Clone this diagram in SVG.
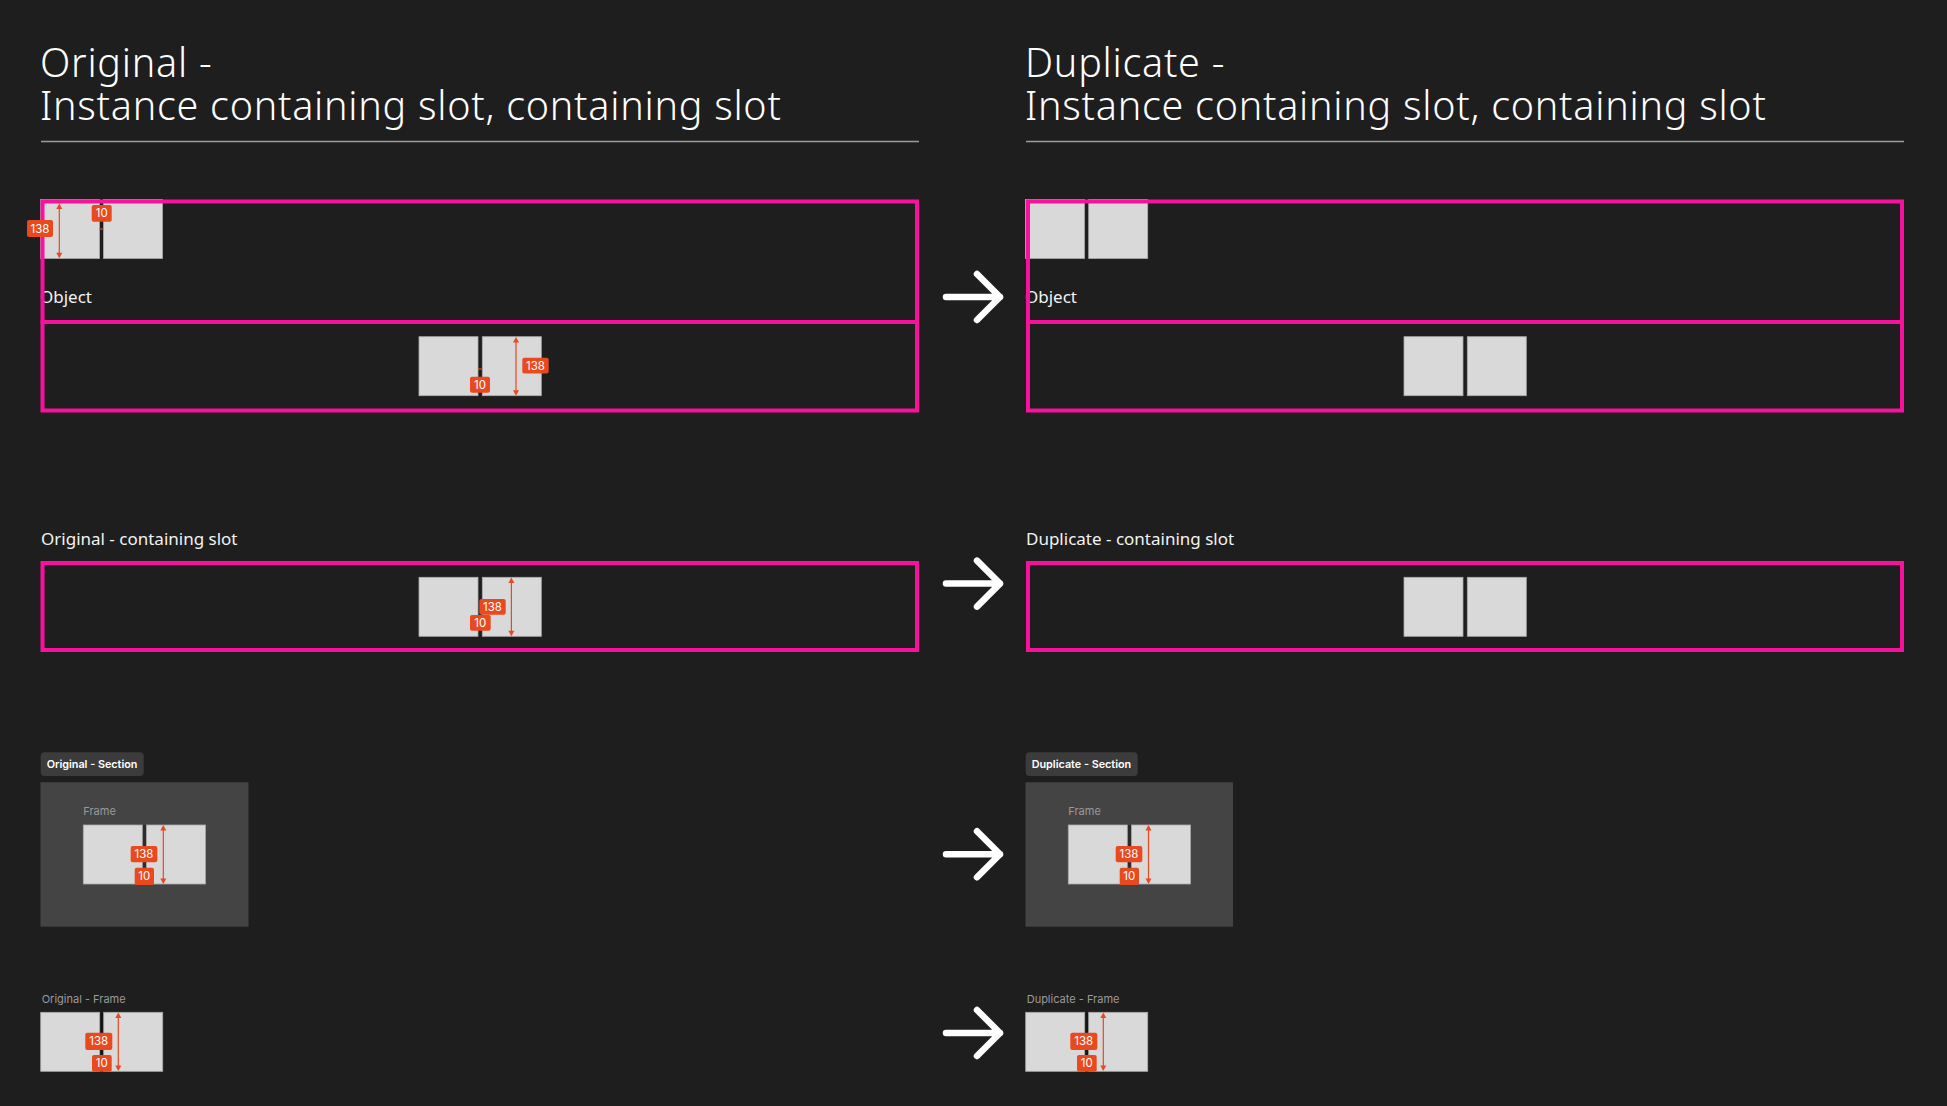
<svg xmlns="http://www.w3.org/2000/svg" width="1947" height="1106" viewBox="0 0 1947 1106">
<style>
.title{font-family:"Noto Sans","Liberation Sans",sans-serif;font-size:39.5px;font-weight:300;fill:#ffffff;letter-spacing:0.75px}
.lbl{font-family:"Noto Sans","Liberation Sans",sans-serif;font-size:17px;fill:#f2f2f2}
.rule{stroke:#9c9c9c;stroke-width:1.5}
.slot{fill:none;stroke:#f7119d;stroke-width:4}
.sq{fill:#d9d9d9;stroke:#ababab;stroke-width:0.8}
.meas{stroke:#e8491f;stroke-width:1.2;fill:none}
.mhead{fill:#e8491f}
.mbox{fill:#e8491f}
.mtxt{font-family:Inter,"Liberation Sans",sans-serif;font-size:11.5px;fill:#ffffff;text-anchor:middle}
.tag{fill:#3c3c3c}
.tagtxt{font-family:Inter,"Liberation Sans",sans-serif;font-size:10.8px;font-weight:600;fill:#ffffff}
.sect{fill:#444444}
.gray{font-family:Inter,"Liberation Sans",sans-serif;font-size:11px;fill:#9a9a9a}
.arrow{stroke:#ffffff;stroke-width:6.5;fill:none;stroke-linecap:round;stroke-linejoin:round}
</style>
<defs>
<g id="arr"><path class="arrow" d="M946 0 H1000 M977 -23 L1000 0 L977 23"/></g>
</defs>
<rect width="1947" height="1106" fill="#1e1e1e"/>

<g id="title-original">
<text class="title"><tspan x="40" y="77">Original -</tspan><tspan x="40" y="120">Instance containing slot, containing slot</tspan></text>
<line class="rule" x1="41" y1="141.5" x2="919" y2="141.5"/>
</g>
<g id="title-duplicate">
<text class="title"><tspan x="1025" y="77">Duplicate -</tspan><tspan x="1025" y="120">Instance containing slot, containing slot</tspan></text>
<line class="rule" x1="1026" y1="141.5" x2="1904" y2="141.5"/>
</g>

<!-- Original instance -->
<g id="orig-instance">
<rect class="sq" x="40.5" y="199.5" width="59" height="59"/>
<rect class="sq" x="103.5" y="199.5" width="59" height="59"/>
<text class="lbl" x="40" y="303">Object</text>
<rect class="sq" x="419" y="336.7" width="59" height="59"/>
<rect class="sq" x="482.3" y="336.7" width="59" height="59"/>
<rect class="slot" x="42.5" y="201.5" width="874.5" height="120.5"/>
<rect class="slot" x="42.5" y="322" width="874.5" height="88.5"/>
<line class="meas" x1="59.3" y1="205" x2="59.3" y2="256.5"/>
<polygon class="mhead" points="59.3,203.5 56.3,209 62.3,209"/>
<polygon class="mhead" points="59.3,258.3 56.3,252.8 62.3,252.8"/>
<rect class="mbox" x="27" y="220" width="26" height="17" rx="2"/>
<text class="mtxt" x="40" y="232.5">138</text>
<line class="meas" x1="99.3" y1="229" x2="103.5" y2="229"/>
<rect class="mbox" x="91.7" y="205" width="20" height="16.7" rx="2"/>
<text class="mtxt" x="101.7" y="217.3">10</text>
<line class="meas" x1="516" y1="338.5" x2="516" y2="394"/>
<polygon class="mhead" points="516,337 513,342.5 519,342.5"/>
<polygon class="mhead" points="516,395.7 513,390.2 519,390.2"/>
<rect class="mbox" x="522.3" y="357.7" width="26.4" height="15.8" rx="2"/>
<text class="mtxt" x="535.5" y="369.6">138</text>
<line class="meas" x1="478" y1="369" x2="482.3" y2="369"/>
<rect class="mbox" x="470" y="376.7" width="20" height="16" rx="2"/>
<text class="mtxt" x="480" y="388.7">10</text>
</g>

<!-- Duplicate instance -->
<g id="dup-instance">
<rect class="sq" x="1025.5" y="199.5" width="59" height="59"/>
<rect class="sq" x="1088.7" y="199.5" width="59" height="59"/>
<text class="lbl" x="1025" y="303">Object</text>
<rect class="sq" x="1404" y="336.7" width="59" height="59"/>
<rect class="sq" x="1467.3" y="336.7" width="59" height="59"/>
<rect class="slot" x="1028" y="201.5" width="874" height="120.5"/>
<rect class="slot" x="1028" y="322" width="874" height="88.5"/>
</g>

<!-- Original containing slot -->
<g id="orig-slot">
<text class="lbl" x="41" y="545">Original - containing slot</text>
<rect class="slot" x="42.5" y="563" width="874.5" height="87"/>
<rect class="sq" x="419" y="577.3" width="59" height="59"/>
<rect class="sq" x="482.3" y="577.3" width="59" height="59"/>
<line class="meas" x1="511.4" y1="579" x2="511.4" y2="634.5"/>
<polygon class="mhead" points="511.4,577.5 508.4,583 514.4,583"/>
<polygon class="mhead" points="511.4,636.3 508.4,630.8 514.4,630.8"/>
<rect class="mbox" x="479.3" y="599" width="26.4" height="15.7" rx="2"/>
<text class="mtxt" x="492.5" y="611">138</text>
<rect class="mbox" x="470" y="615" width="20.7" height="15.7" rx="2"/>
<text class="mtxt" x="480.3" y="627">10</text>
</g>

<!-- Duplicate containing slot -->
<g id="dup-slot">
<text class="lbl" x="1026" y="545">Duplicate - containing slot</text>
<rect class="slot" x="1028" y="563" width="874" height="87"/>
<rect class="sq" x="1404" y="577.3" width="59" height="59"/>
<rect class="sq" x="1467.3" y="577.3" width="59" height="59"/>
</g>

<!-- Original section -->
<g id="orig-section">
<rect class="tag" x="40.7" y="752.3" width="103" height="23.7" rx="4"/>
<text class="tagtxt" x="46.7" y="768">Original - Section</text>
<rect class="sect" x="40.5" y="782.3" width="208" height="144.4"/>
<text class="gray" x="83.3" y="815">Frame</text>
<rect x="83.3" y="825" width="122.4" height="59" fill="#2c2c2c"/>
<rect class="sq" x="83.3" y="825" width="59" height="59"/>
<rect class="sq" x="146.5" y="825" width="59" height="59"/>
<line class="meas" x1="163.3" y1="826.5" x2="163.3" y2="882.5"/>
<polygon class="mhead" points="163.3,825 160.3,830.5 166.3,830.5"/>
<polygon class="mhead" points="163.3,884 160.3,878.5 166.3,878.5"/>
<rect class="mbox" x="130.7" y="846" width="26.6" height="16.3" rx="2"/>
<text class="mtxt" x="144" y="858.3">138</text>
<rect class="mbox" x="134.7" y="867.7" width="19.3" height="17.3" rx="2"/>
<text class="mtxt" x="144.3" y="880.3">10</text>
</g>

<!-- Duplicate section -->
<g id="dup-section">
<rect class="tag" x="1025.7" y="752.3" width="112" height="23.7" rx="4"/>
<text class="tagtxt" x="1031.7" y="768">Duplicate - Section</text>
<rect class="sect" x="1025.5" y="782.3" width="207.5" height="144.4"/>
<text class="gray" x="1068.3" y="815">Frame</text>
<rect x="1068.3" y="825" width="122.4" height="59" fill="#2c2c2c"/>
<rect class="sq" x="1068.3" y="825" width="59" height="59"/>
<rect class="sq" x="1131.5" y="825" width="59" height="59"/>
<line class="meas" x1="1148.5" y1="826.5" x2="1148.5" y2="882.5"/>
<polygon class="mhead" points="1148.5,825 1145.5,830.5 1151.5,830.5"/>
<polygon class="mhead" points="1148.5,884 1145.5,878.5 1151.5,878.5"/>
<rect class="mbox" x="1115.7" y="846" width="26.6" height="16.3" rx="2"/>
<text class="mtxt" x="1129" y="858.3">138</text>
<rect class="mbox" x="1119.7" y="867.7" width="19.3" height="17.3" rx="2"/>
<text class="mtxt" x="1129.3" y="880.3">10</text>
</g>

<!-- Original frame -->
<g id="orig-frame">
<text class="gray" x="41.7" y="1002.7" fill="#8c8c8c">Original - Frame</text>
<rect x="40.7" y="1012.3" width="122" height="59" fill="#151515"/>
<rect class="sq" x="40.7" y="1012.3" width="59" height="59"/>
<rect class="sq" x="103.7" y="1012.3" width="59" height="59"/>
<line class="meas" x1="118.3" y1="1014" x2="118.3" y2="1069.5"/>
<polygon class="mhead" points="118.3,1012.5 115.3,1018 121.3,1018"/>
<polygon class="mhead" points="118.3,1071 115.3,1065.5 121.3,1065.5"/>
<rect class="mbox" x="85.3" y="1032.7" width="27" height="17.3" rx="2"/>
<text class="mtxt" x="98.8" y="1045.3">138</text>
<rect class="mbox" x="92" y="1055" width="19.7" height="16.7" rx="2"/>
<text class="mtxt" x="101.8" y="1067.4">10</text>
</g>

<!-- Duplicate frame -->
<g id="dup-frame">
<text class="gray" x="1026.7" y="1002.7" fill="#8c8c8c">Duplicate - Frame</text>
<rect x="1025.7" y="1012.3" width="122" height="59" fill="#151515"/>
<rect class="sq" x="1025.7" y="1012.3" width="59" height="59"/>
<rect class="sq" x="1088.7" y="1012.3" width="59" height="59"/>
<line class="meas" x1="1103.3" y1="1014" x2="1103.3" y2="1069.5"/>
<polygon class="mhead" points="1103.3,1012.5 1100.3,1018 1106.3,1018"/>
<polygon class="mhead" points="1103.3,1071 1100.3,1065.5 1106.3,1065.5"/>
<rect class="mbox" x="1070.3" y="1032.7" width="27" height="17.3" rx="2"/>
<text class="mtxt" x="1083.8" y="1045.3">138</text>
<rect class="mbox" x="1077" y="1055" width="19.7" height="16.7" rx="2"/>
<text class="mtxt" x="1086.8" y="1067.4">10</text>
</g>

<g id="connectors">
<use href="#arr" y="297"/>
<use href="#arr" y="583.6"/>
<use href="#arr" y="854.3"/>
<use href="#arr" y="1033"/>
</g>
</svg>
